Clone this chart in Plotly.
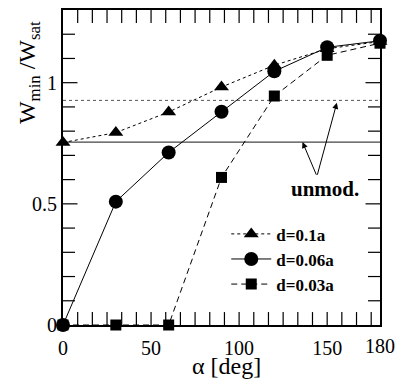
import plotly.graph_objects as go

# ---- data ----
alpha = [0, 30, 60, 90, 120, 150, 180]
w_d010 = [0.753, 0.794, 0.879, 0.982, 1.072, 1.14, 1.17]
w_d006 = [0.0, 0.509, 0.712, 0.88, 1.047, 1.146, 1.173]
w_d003 = [0.0, 0.0, 0.0, 0.609, 0.945, 1.113, 1.163]
series_names = ["d=0.1a", "d=0.06a", "d=0.03a"]
unmod_levels = [0.927, 0.755]   # dotted, solid
x_range = [0, 180]
y_range = [0, 1.3]
x_tick_step = 50
x_minor_per_major = 6
x_end_label = "180"
y_tick_step = 0.5
y_minor_per_major = 5

FONT = "Liberation Serif"
W, H = 405, 382
M = dict(l=63, r=25, t=8, b=57)

fig = go.Figure()

# ---- inside tick marks on all four sides, built from the tick steps ----
plot_w = W - M["l"] - M["r"]
plot_h = H - M["t"] - M["b"]
ux = (x_range[1] - x_range[0]) / plot_w   # data units per pixel (x)
uy = (y_range[1] - y_range[0]) / plot_h   # data units per pixel (y)
tx, ty = [], []
x_minor = x_tick_step / x_minor_per_major
k = 1
while k * x_minor < x_range[1] - 1e-9:
    xv = k * x_minor
    tx += [xv, xv, None, xv, xv, None]
    ty += [y_range[0], y_range[0] + 13 * uy, None,
           y_range[1], y_range[1] - 13 * uy, None]
    k += 1
y_minor = y_tick_step / y_minor_per_major
k = 1
while k * y_minor < y_range[1] - 1e-9:
    yv = k * y_minor
    ln = 14.5 if k % y_minor_per_major == 0 else 12
    tx += [x_range[0], x_range[0] + ln * ux, None,
           x_range[1], x_range[1] - ln * ux, None]
    ty += [yv, yv, None, yv, yv, None]
    k += 1
fig.add_trace(go.Scatter(x=tx, y=ty, mode="lines", showlegend=False,
                         hoverinfo="skip", connectgaps=False,
                         line=dict(color="black", width=1.2)))

# ---- data series ----
fig.add_trace(go.Scatter(
    x=alpha, y=w_d010, name=series_names[0], mode="lines+markers",
    line=dict(color="black", width=1, dash="3px,3px"),
    marker=dict(symbol="triangle-up", size=13, color="black"),
    cliponaxis=False))
fig.add_trace(go.Scatter(
    x=alpha, y=w_d006, name=series_names[1], mode="lines+markers",
    line=dict(color="black", width=1),
    marker=dict(symbol="circle", size=14, color="black"),
    cliponaxis=False))
fig.add_trace(go.Scatter(
    x=alpha, y=w_d003, name=series_names[2], mode="lines+markers",
    line=dict(color="black", width=1, dash="6px,4px"),
    marker=dict(symbol="square", size=11, color="black"),
    cliponaxis=False))

# reference (unmodulated) lines
fig.add_hline(y=unmod_levels[0], layer="below",
              line=dict(color="#555555", width=1, dash="3px,3px"))
fig.add_hline(y=unmod_levels[1], layer="below",
              line=dict(color="#444444", width=1.2))

axis_common = dict(
    showline=True, linecolor="black", linewidth=2, mirror=True,
    ticks="", showgrid=False, zeroline=False,
    tickfont=dict(family=FONT, size=20, color="black"),
)

fig.update_xaxes(range=x_range, tickmode="linear", tick0=0, dtick=x_tick_step,
                 ticklabelstandoff=4, **axis_common)
fig.update_yaxes(range=y_range, tickmode="linear", tick0=0, dtick=y_tick_step,
                 **axis_common)

annotations = [
    dict(text=x_end_label, x=x_range[1], xref="x", y=0, yref="paper",
         xanchor="center", yanchor="top", yshift=-8, showarrow=False,
         font=dict(family=FONT, size=20, color="black")),
    dict(text="α [deg]", xref="paper", yref="paper", x=0.515, y=-0.13,
         xanchor="center", yanchor="middle", showarrow=False,
         font=dict(family=FONT, size=24, color="black")),
    dict(text="W<sub>min</sub> /W<sub>sat</sub>", xref="paper", yref="paper",
         x=-0.107, y=0.80, xanchor="center", yanchor="middle", textangle=-90,
         showarrow=False, font=dict(family=FONT, size=24, color="black")),
    dict(text="<b>unmod.</b>", x=149, y=0.56, xanchor="center", yanchor="middle",
         showarrow=False, font=dict(family=FONT, size=21, color="black")),
    dict(text="", x=136, y=unmod_levels[1], ax=144.2, ay=0.614,
         axref="x", ayref="y", showarrow=True, arrowhead=2, arrowsize=1.2,
         arrowwidth=1, arrowcolor="black"),
    dict(text="", x=155.5, y=unmod_levels[0] - 0.01, ax=144.2, ay=0.614,
         axref="x", ayref="y", showarrow=True, arrowhead=2, arrowsize=1.2,
         arrowwidth=1, arrowcolor="black"),
]

fig.update_layout(
    width=W, height=H,
    margin=M,
    paper_bgcolor="white", plot_bgcolor="white",
    font=dict(family=FONT, color="black"),
    showlegend=True,
    legend=dict(x=0.515, y=0.345, xanchor="left", yanchor="top",
                bgcolor="rgba(0,0,0,0)", borderwidth=0,
                font=dict(family=FONT, size=17, color="black", weight="bold"),
                itemwidth=40, tracegroupgap=0),
    annotations=annotations,
)

fig.write_html(
    "out.html",
    config={"displayModeBar": False},
    post_script="document.body.style.margin='0';document.body.style.overflow='hidden';",
)
